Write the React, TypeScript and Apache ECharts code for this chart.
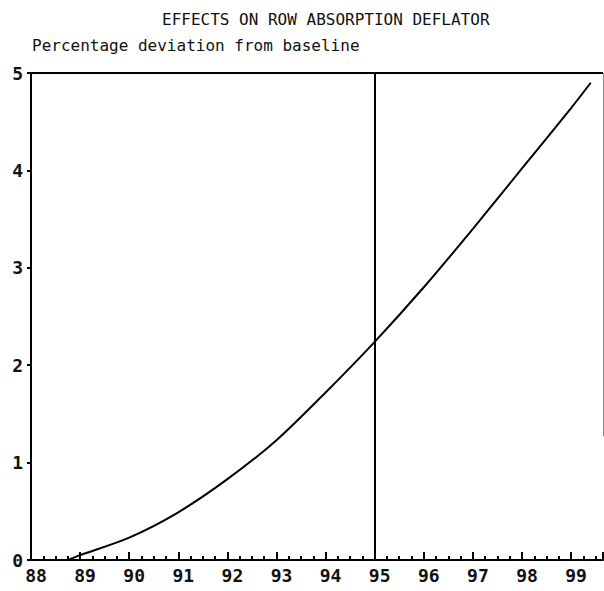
import React, { useEffect, useRef } from "react";
import * as echarts from "echarts";

const years = [88.75, 89, 90, 91, 92, 93, 94, 95, 96, 97, 98, 99, 99.4];
const deviation = [0, 0.05, 0.23, 0.49, 0.83, 1.23, 1.72, 2.24, 2.8, 3.4, 4.02, 4.64, 4.9];
const xMin = 88;
const xMax = 99.65;
const yTicks = [0, 1, 2, 3, 4, 5];
const shockYear = 95;
const titleText = "EFFECTS ON ROW ABSORPTION DEFLATOR";
const subtitleText = "Percentage deviation from baseline";

const FONT = "'DejaVu Sans Mono', monospace";

export default function App() {
  const ref = useRef<HTMLDivElement>(null);
  useEffect(() => {
    if (!ref.current) return;
    const chart = echarts.init(ref.current, undefined, { renderer: "svg" });
    const data = years.map((y, i) => [y, deviation[i]]);
    chart.setOption({
      animation: false,
      backgroundColor: "#ffffff",
      title: [
        {
          text: titleText,
          left: 157,
          top: 6,
          textStyle: { fontFamily: FONT, fontSize: 16, fontWeight: "normal", color: "#111" },
        },
        {
          text: subtitleText,
          left: 27,
          top: 32,
          textStyle: { fontFamily: FONT, fontSize: 16, fontWeight: "normal", color: "#111" },
        },
      ],
      grid: { left: 31, right: 1, top: 73, bottom: 31, containLabel: false },
      xAxis: {
        type: "value",
        min: xMin,
        max: xMax,
        interval: 1,
        axisLine: { show: true, lineStyle: { color: "#000", width: 2 } },
        axisTick: { show: true, inside: true, length: 8, lineStyle: { color: "#000", width: 2 } },
        minorTick: { show: true, splitNumber: 4, length: 4, lineStyle: { color: "#000", width: 2 } },
        splitLine: { show: false },
        axisLabel: {
          showMaxLabel: false,
          margin: 6,
          padding: [0, 0, 0, 10],
          fontFamily: FONT,
          fontSize: 18,
          fontWeight: "bold",
          color: "#111",
          formatter: (v: number) => String(Math.round(v)),
        },
      },
      yAxis: {
        type: "value",
        min: yTicks[0],
        max: yTicks[yTicks.length - 1],
        interval: 1,
        axisLine: { show: true, lineStyle: { color: "#000", width: 2 } },
        axisTick: { show: true, inside: false, length: 4, lineStyle: { color: "#000", width: 2 } },
        splitLine: { show: false },
        axisLabel: {
          margin: 8,
          fontFamily: FONT,
          fontSize: 18,
          fontWeight: "bold",
          color: "#111",
        },
      },
      series: [
        {
          type: "line",
          data,
          smooth: 0.3,
          showSymbol: false,
          lineStyle: { color: "#000", width: 2 },
          markLine: {
            silent: true,
            symbol: "none",
            label: { show: false },
            data: [
              { xAxis: shockYear, lineStyle: { color: "#000", width: 2, type: "solid" } },
              { yAxis: yTicks[yTicks.length - 1], lineStyle: { color: "#000", width: 2, type: "solid" } },
              [
                { coord: [xMax, 5], lineStyle: { color: "#888", width: 1, type: "solid" } },
                { coord: [xMax, 1.27] },
              ],
            ],
          },
        },
      ],
    });
    return () => chart.dispose();
  }, []);
  return (
    <div
      ref={ref}
      style={{ position: "fixed", left: 0, top: 0, width: 604, height: 591, background: "#fff" }}
    />
  );
}
